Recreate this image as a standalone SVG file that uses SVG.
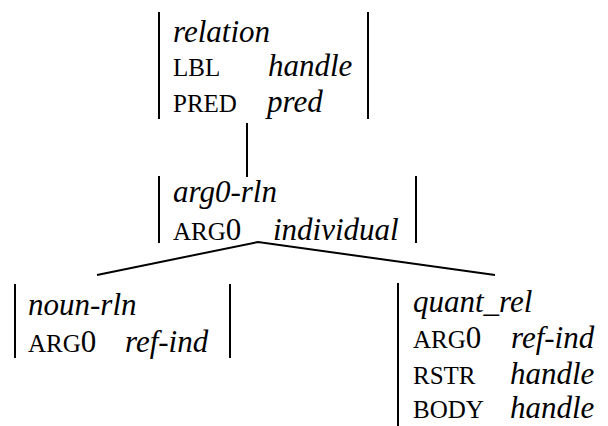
<svg xmlns="http://www.w3.org/2000/svg" width="608" height="426" viewBox="0 0 608 426">
  <style>
    .bar { stroke: #000; stroke-width: 2; }
    .edge { stroke: #000; stroke-width: 2; fill: none; }
    text { font-family: "Liberation Serif", "Times New Roman", serif; fill: #000; }
    .type { font-style: italic; font-size: 31px; }
    .feat { font-size: 25px; }
    .num { font-size: 31px; }
  </style>
  <rect width="608" height="426" fill="#fff"/>

  <!-- type hierarchy links -->
  <g id="edges">
    <line class="edge" x1="247" y1="123" x2="247" y2="177"/>
    <polyline class="edge" points="97,275 258,242 495,275"/>
  </g>

  <g id="relation">
    <line class="bar" x1="159" y1="12" x2="159" y2="119"/>
    <line class="bar" x1="368" y1="12" x2="368" y2="119"/>
    <text class="type" x="173" y="42">relation</text>
    <text class="feat" x="173" y="76">LBL</text>
    <text class="type" x="268" y="76">handle</text>
    <text class="feat" x="173" y="112">PRED</text>
    <text class="type" x="267" y="112">pred</text>
  </g>

  <g id="arg0-rln">
    <line class="bar" x1="159" y1="176" x2="159" y2="243"/>
    <line class="bar" x1="416" y1="176" x2="416" y2="243"/>
    <text class="type" x="173" y="202">arg0-rln</text>
    <text class="feat" x="173" y="240">ARG<tspan class="num">0</tspan></text>
    <text class="type" x="273" y="240">individual</text>
  </g>

  <g id="noun-rln">
    <line class="bar" x1="15" y1="284" x2="15" y2="358"/>
    <line class="bar" x1="230" y1="284" x2="230" y2="358"/>
    <text class="type" x="28" y="315">noun-rln</text>
    <text class="feat" x="28" y="352">ARG<tspan class="num">0</tspan></text>
    <text class="type" x="125" y="352">ref-ind</text>
  </g>

  <g id="quant_rel">
    <line class="bar" x1="398" y1="283" x2="398" y2="426"/>
    <text class="type" x="413" y="312">quant_rel</text>
    <text class="feat" x="413" y="348">ARG<tspan class="num">0</tspan></text>
    <text class="type" x="511" y="348">ref-ind</text>
    <text class="feat" x="413" y="384">RSTR</text>
    <text class="type" x="510" y="384">handle</text>
    <text class="feat" x="413" y="418">BODY</text>
    <text class="type" x="510" y="418">handle</text>
  </g>
</svg>
